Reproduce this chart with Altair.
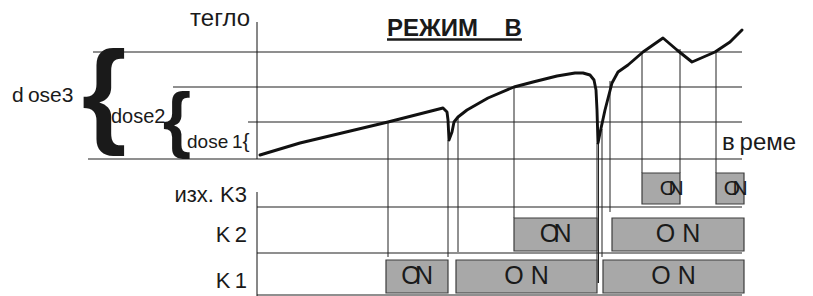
import altair as alt
import pandas as pd

# ---- data (time t, weight w) ----
curve_t = [3, 43, 131, 186, 190, 191, 192, 195, 197, 201, 210, 231, 257, 276, 300, 318, 326, 333, 337,
           339, 340, 341, 343, 348, 355, 361, 371, 386, 406, 420, 435, 458, 473, 485]
curve_w = [4, 16, 37, 51, 47, 39, 19, 27, 37, 42, 49, 61, 72, 77, 83, 86, 86, 84, 79,
           69, 49, 16, 26, 49, 76, 87, 94, 107, 121, 109, 97, 107, 117, 129]

dose_level = [0, 37, 72, 107]
dose_start = [-169, -9, -84, -164]
time_end = 485

row_line_w = [-48, -94, -136]

relay_names = ["изх. K3", "K2", "K1"]
relay_top = [-14, -59, -101]
relay_bottom = [-45, -92, -134]

bar_relay = ["K1", "K1", "K1", "K2", "K2", "K3", "K3"]
bar_on = [129, 199, 346, 257, 355, 385, 459]
bar_off = [191, 340, 487, 340, 487, 423, 487]
bar_label = ["ON", "O N", "O N", "ON", "O N", "ON", "ON"]

conn_t = [131, 191, 201, 257, 340, 341.5, 345, 353, 385, 423, 459]
conn_top = [37, 19, 41, 72, 16, 16, 30, 78, 107, 110, 107]
conn_bottom = [-98, -98, -93, -59, -124, -124, -98, -53, -14, -14, -14]

FONT = "Liberation Sans"
xs = alt.Scale(domain=[-249, 548], nice=False, zero=False)
ys = alt.Scale(domain=[-137, 151], nice=False, zero=False)


def X(f):
    return alt.X(f, type="quantitative", scale=xs, axis=None)


def Y(f):
    return alt.Y(f, type="quantitative", scale=ys, axis=None)


# horizontal dose lines
dose_df = pd.DataFrame({"w": dose_level, "t": dose_start, "t2": [time_end] * 4})
dose_lines = alt.Chart(dose_df).mark_rule(color="#6a6a6a", strokeWidth=1.4).encode(
    x=X("t"), x2="t2", y=Y("w"))

# row lines
row_df = pd.DataFrame({"w": row_line_w, "t": [0] * 3, "t2": [time_end] * 3})
row_lines = alt.Chart(row_df).mark_rule(color="#6a6a6a", strokeWidth=1.4).encode(
    x=X("t"), x2="t2", y=Y("w"))

# axes
axis_df = pd.DataFrame({"t": [0, 0], "w": [137, -33], "w2": [0, -137]})
axes = alt.Chart(axis_df).mark_rule(color="#111", strokeWidth=1).encode(
    x=X("t"), y=Y("w"), y2="w2")

# connectors
conn_df = pd.DataFrame({"t": conn_t, "w": conn_top, "w2": conn_bottom})
conns = alt.Chart(conn_df).mark_rule(color="#222", strokeWidth=1).encode(
    x=X("t"), y=Y("w"), y2="w2")

# curve
curve_df = pd.DataFrame({"t": curve_t, "w": curve_w, "i": list(range(len(curve_t)))})
curve = alt.Chart(curve_df).mark_line(color="#111", strokeWidth=2.9, strokeJoin="round",
                                      strokeCap="round").encode(
    x=X("t"), y=Y("w"), order="i:Q")

# bars
top_map = dict(zip(["K3", "K2", "K1"], relay_top))
bot_map = dict(zip(["K3", "K2", "K1"], relay_bottom))
bar_df = pd.DataFrame({
    "relay": bar_relay, "t": bar_on, "t2": bar_off, "label": bar_label,
    "w": [top_map[r] for r in bar_relay], "w2": [bot_map[r] for r in bar_relay]})
bar_df["tc"] = (bar_df["t"] + bar_df["t2"]) / 2
bars = alt.Chart(bar_df).mark_rect(fill="#a8a8a8", stroke="#3c3c3c", strokeWidth=1.2).encode(
    x=X("t"), x2="t2", y=Y("w"), y2="w2")

# spaced labels "O N" as one string
spaced = bar_df[bar_df["label"] == "O N"]
bar_text = alt.Chart(spaced).mark_text(font=FONT, fontSize=25, color="#1a1a1a",
                                       baseline="alphabetic", dy=-9).encode(
    x=X("tc"), y=Y("w2"), text="label:N")

# tight labels "ON" drawn letter by letter, overlapping as in the original
tight = bar_df[(bar_df["label"] == "ON") & (bar_df["relay"] != "K3")]
tight_o = alt.Chart(tight).mark_text(font=FONT, fontSize=25, color="#1a1a1a", baseline="alphabetic",
                                     dy=-9, dx=-6, text="O").encode(x=X("tc"), y=Y("w2"))
tight_n = alt.Chart(tight).mark_text(font=FONT, fontSize=25, color="#1a1a1a", baseline="alphabetic",
                                     dy=-9, dx=7, text="N").encode(x=X("tc"), y=Y("w2"))

small = bar_df[bar_df["relay"] == "K3"]
k3_o = alt.Chart(small).mark_text(font=FONT, fontSize=21, color="#1a1a1a", baseline="alphabetic",
                                  dy=-9, dx=-12, text="O").encode(x=X("t2"), y=Y("w2"))
k3_n = alt.Chart(small).mark_text(font=FONT, fontSize=21, color="#1a1a1a", baseline="alphabetic",
                                  dy=-9, dx=-4, text="N").encode(x=X("t2"), y=Y("w2"))

# relay names
names_df = pd.DataFrame({"name": ["изх.\u00a0K3", "K\u20092", "K\u20091"],
                         "w": [-43, -83, -129]})
names = alt.Chart(names_df).mark_text(font=FONT, fontSize=22, color="#1a1a1a", align="right",
                                      baseline="alphabetic").encode(
    x=alt.X(datum=-10, type="quantitative", scale=xs, axis=None), y=Y("w"), text="name:N")


def label(t, w, txt, size, align="left", weight="normal"):
    return alt.Chart(pd.DataFrame({"t": [t], "w": [w]})).mark_text(
        text=txt, font=FONT, fontSize=size, fontWeight=weight, align=align,
        baseline="alphabetic", color="#1a1a1a").encode(x=X("t"), y=Y("w"))


annots = [
    label(-7, 133, "тегло", 24, align="right"),
    label(130, 123, "РЕЖИМ\u00a0\u00a0\u00a0\u00a0В", 24, weight="bold"),
    label(-245, 57, "d\u2009ose3", 21),
    label(-146, 36, "dose2", 20),
    label(-70, 11, "dose\u20091", 19),
    label(-11, 11, "{", 21, align="center"),
    label(-80, 15, "{", 73, align="center", weight="bold"),
    label(-153, 27, "{", 115, align="center", weight="bold"),
    label(465, 9, "в\u2009реме", 24),
]
underline_df = pd.DataFrame({"t": [130], "t2": [265], "w": [119.5]})
underline = alt.Chart(underline_df).mark_rule(color="#1a1a1a", strokeWidth=2.5).encode(
    x=X("t"), x2="t2", y=Y("w"))

chart = alt.layer(
    dose_lines, row_lines, axes, conns, bars, bar_text, tight_o, tight_n, k3_o, k3_n,
    curve, names, underline, *annots
).properties(width=797, height=288, padding=0, autosize="none").configure_view(stroke=None)

chart.save("out.html", embed_options={"renderer": "svg", "actions": False})
